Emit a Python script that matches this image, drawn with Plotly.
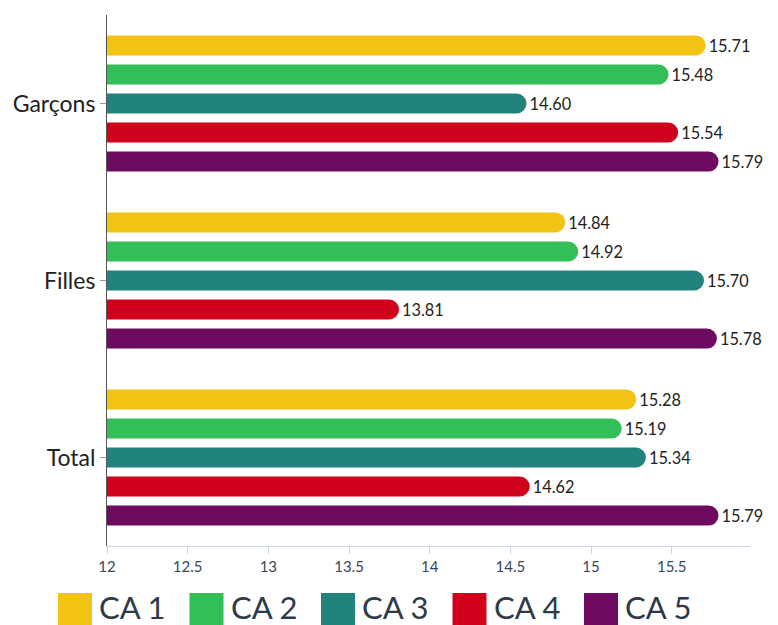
import plotly.graph_objects as go

categories = ["Garçons", "Filles", "Total"]
series_names = ["CA 1", "CA 2", "CA 3", "CA 4", "CA 5"]
ca1 = [15.71, 14.84, 15.28]
ca2 = [15.48, 14.92, 15.19]
ca3 = [14.60, 15.70, 15.34]
ca4 = [15.54, 13.81, 14.62]
ca5 = [15.79, 15.78, 15.79]
series_values = [ca1, ca2, ca3, ca4, ca5]
colors = ["#F2C314", "#34BE57", "#22837D", "#D0021B", "#6E0A5F"]
x_ticks = [12, 12.5, 13, 13.5, 14, 14.5, 15, 15.5]

W, H = 778, 625
L, R, T, B = 107, 28, 15, 79
PW, PH = W - L - R, H - T - B

fig = go.Figure()
for name, vals, col in zip(series_names, series_values, colors):
    fig.add_trace(go.Bar(
        y=categories, x=vals, name=name, orientation="h",
        marker=dict(color=col, line=dict(width=0)),
        text=[f"{v:.2f}" for v in vals], textposition="outside",
        textfont=dict(family="Lato", size=22, color="#222222"),
        cliponaxis=False, showlegend=False,
    ))

# custom legend (large squares) at the bottom
def px_to_paper_x(px):
    return (px - L) / PW

def px_to_paper_y(py):
    return (H - B - py) / PH

shapes = []
annotations = []
for i, (name, col) in enumerate(zip(series_names, colors)):
    left = 58 + 131.5 * i
    shapes.append(dict(
        type="rect", xref="paper", yref="paper",
        x0=px_to_paper_x(left), x1=px_to_paper_x(left + 34),
        y0=px_to_paper_y(593), y1=px_to_paper_y(628),
        fillcolor=col, line=dict(width=0), layer="above",
    ))
    annotations.append(dict(
        xref="paper", yref="paper", x=px_to_paper_x(left + 40), y=px_to_paper_y(607),
        xanchor="left", yanchor="middle", text=name, showarrow=False,
        font=dict(family="Lato", size=31, color="#2E3A47"), borderpad=0,
    ))

fig.update_layout(
    width=W, height=H,
    margin=dict(l=L, r=R, t=T, b=B),
    paper_bgcolor="white", plot_bgcolor="white",
    barmode="group", bargap=0.18, bargroupgap=0.31,
    barcornerradius=10,
    shapes=shapes, annotations=annotations,
    xaxis=dict(
        range=[12, 15.985], tickvals=x_ticks, ticktext=[str(t) for t in x_ticks],
        showgrid=False, zeroline=False, showline=True, linecolor="#CCD6EB", linewidth=1,
        ticks="outside", ticklen=7, tickcolor="#CCD6EB",
        tickfont=dict(family="Lato", size=15, color="#3A4556"),
    ),
    yaxis=dict(
        autorange="reversed", showgrid=False, zeroline=False,
        showline=True, linecolor="#555555", linewidth=1,
        ticks="outside", ticklen=6, tickcolor="#999999",
        tickfont=dict(family="Lato", size=23, color="#222222"),
    ),
    font=dict(family="Lato"),
)

fig.write_html("out.html", config={"displayModeBar": False},
               post_script="document.body.style.margin='0';")
